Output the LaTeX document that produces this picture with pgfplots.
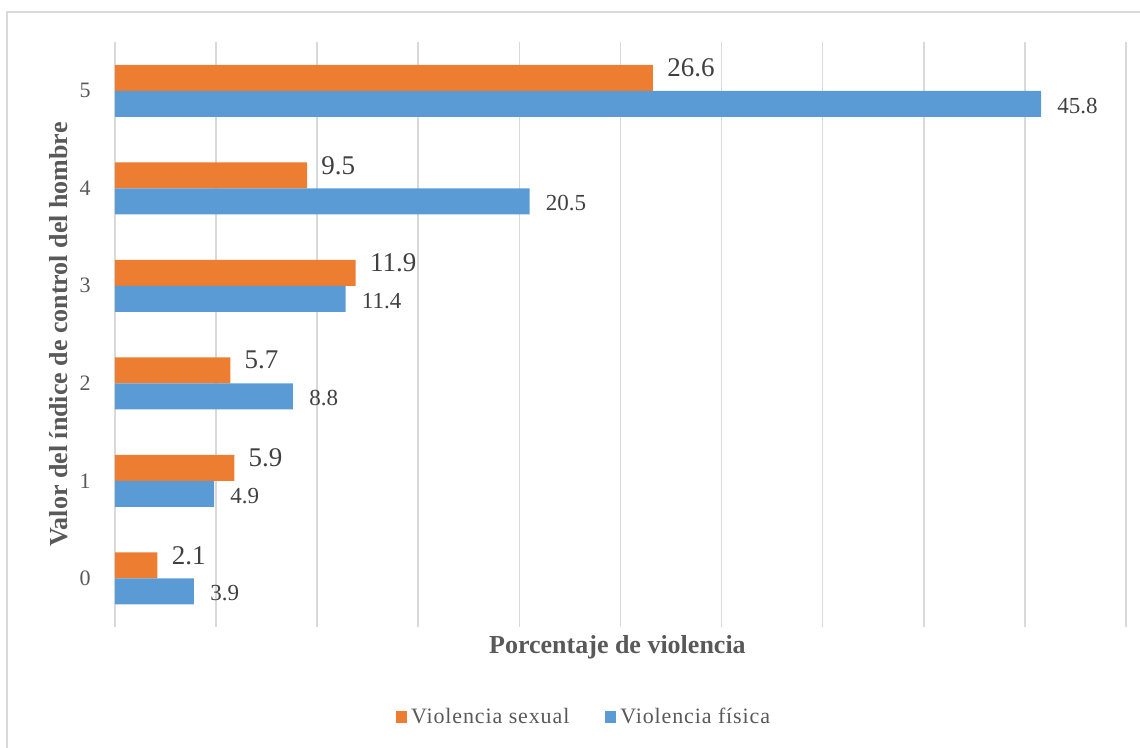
\documentclass[border=0pt]{standalone}
\usepackage{fontspec}
\setmainfont{Liberation Serif}
\usepackage{pgfplots}
\pgfplotsset{compat=1.18}
\definecolor{corange}{HTML}{ED7D31}
\definecolor{cblue}{HTML}{5B9BD5}
\definecolor{cgrid}{HTML}{D9D9D9}
\definecolor{ctext}{HTML}{595959}
\definecolor{clabel}{HTML}{404040}
\begin{document}
\begin{tikzpicture}
\useasboundingbox (0,0) rectangle (570pt,-374pt);
\draw[cgrid, line width=0.8pt] (3.5pt,-380pt) -- (3.5pt,-6pt) -- (580pt,-6pt);
\begin{axis}[
  at={(57.5pt,-313.5pt)}, anchor=south west,
  scale only axis, width=505.5pt, height=292.5pt,
  xmin=0, xmax=50, ymin=-0.5, ymax=5.5,
  xbar, bar width=13pt,
  axis line style={draw=none},
  xtick={0,5,...,50}, xticklabels={},
  xmajorgrids, grid style={cgrid, line width=0.8pt},
  major tick length=0pt,
  ytick={0,1,2,3,4,5},
  yticklabels={0,1,2,3,4,5},
  yticklabel style={font=\fontsize{11}{13}\selectfont, text=ctext, anchor=east, inner sep=0pt, xshift=-12pt},
  /pgf/number format/assume math mode=true,
  xlabel={Porcentaje de violencia},
  xlabel style={at={(axis description cs:0.497,-0.034)}, anchor=center, font=\fontsize{13}{15}\selectfont\bfseries, text=ctext},
  ylabel={Valor del índice de control del hombre},
  ylabel style={at={(axis description cs:-0.0554,0.5)}, anchor=center, font=\fontsize{13}{15}\selectfont\bfseries, text=ctext},
  clip=false,
  legend columns=2,
  legend style={at={(0.465,-0.154)}, anchor=center, draw=none, fill=none,
    font=\fontsize{11}{13}\selectfont\addfontfeature{LetterSpace=4}, text=ctext,
    /tikz/every even column/.append style={column sep=16pt}},
  legend image code/.code={\fill[#1, draw=none] (0pt,-3pt) rectangle (5.5pt,3pt);},
  nodes near coords,
  nodes near coords align={horizontal},
  nodes near coords={\pgfmathprintnumber[fixed, fixed zerofill, precision=1]{\pgfplotspointmeta}},
]
\addplot[fill=corange, draw=none, bar shift=6.5pt,
  every node near coord/.append style={font=\fontsize{13.5}{15}\selectfont, text=clabel, anchor=west, inner sep=0pt, xshift=7pt, yshift=5pt}]
  coordinates {(2.1,0) (5.9,1) (5.7,2) (11.9,3) (9.5,4) (26.6,5)};
\addlegendentry{Violencia sexual}
\addplot[fill=cblue, draw=none, bar shift=-6.5pt,
  every node near coord/.append style={font=\fontsize{11.5}{13}\selectfont, text=clabel, anchor=west, inner sep=0pt, xshift=8pt, yshift=-1pt}]
  coordinates {(3.9,0) (4.9,1) (8.8,2) (11.4,3) (20.5,4) (45.8,5)};
\addlegendentry{Violencia física}
\end{axis}
\end{tikzpicture}
\end{document}
